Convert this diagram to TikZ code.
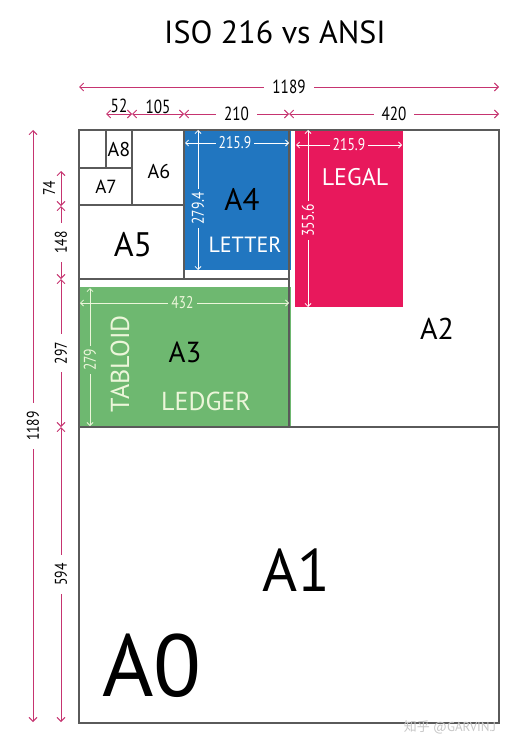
\documentclass[tikz,border=0pt]{standalone}
\usepackage{fontspec}
\setmainfont{PT Sans}
\newfontfamily\narrowfont{PT Sans}[FakeStretch=0.8]
\newfontfamily\cjkfont{Noto Sans CJK SC}
\usetikzlibrary{arrows.meta}

\definecolor{dimpink}{RGB}{198,52,112}
\definecolor{linegray}{RGB}{90,90,90}
\definecolor{letterblue}{RGB}{33,118,192}
\definecolor{legalred}{RGB}{232,24,92}
\definecolor{tabloidgreen}{RGB}{110,184,112}
\definecolor{greentext}{RGB}{236,246,218}

\newcommand{\fs}[1]{\fontsize{#1}{#1}\selectfont}

\begin{document}
\begin{tikzpicture}[x=1pt, y=-1pt,
    paper/.style={draw=linegray, line width=1.1pt},
    dimline/.style={draw=dimpink, line width=0.9pt, {Straight Barb[length=4pt,width=8pt]}-{Straight Barb[length=4pt,width=8pt]}},
    dimtext/.style={fill=white, inner xsep=8pt, inner ysep=0pt, text=black, font=\narrowfont\fs{19}},
    sidetext/.style={dimtext, rotate=90, font=\narrowfont\fs{17}},
    innerdim/.style={draw=white, line width=0.8pt, {Straight Barb[length=3pt,width=6pt]}-{Straight Barb[length=3pt,width=6pt]}},
    innertext/.style={inner xsep=3pt, inner ysep=0pt, text=white, font=\narrowfont\fs{17}},
    sizename/.style={inner sep=0pt, text=black}]
  \useasboundingbox (0,0) rectangle (523,749);
  %% title
  \node (title) at (275,32) {\fs{32}ISO 216 vs ANSI};
  %% ansi sheets
  \fill[letterblue] (184,130) rectangle (291,270);
  \fill[legalred] (295,130) rectangle (403,307);
  \fill[tabloidgreen] (79,287) rectangle (291,427);
  %% iso sheets
  \draw[paper] (79,130) rectangle (499,723);
  \draw[paper] (79,427) -- (499,427);
  \draw[paper] (289,130) -- (289,427);
  \draw[paper] (79,279) -- (289,279);
  \draw[paper] (184,130) -- (184,279);
  \draw[paper] (79,205) -- (184,205);
  \draw[paper] (132,130) -- (132,205);
  \draw[paper] (79,168) -- (132,168);
  \draw[paper] (106,130) -- (106,168);
  %% sheet names
  \node[sizename] (a0) at (152,666) {\fs{88}A0};
  \node[sizename] (a1) at (296,570) {\fs{60}A1};
  \node[sizename] (a2) at (437,329) {\fs{30}A2};
  \node[sizename] (a3) at (185,352) {\fs{29}A3};
  \node[sizename] (a4) at (242,199) {\fs{31}A4};
  \node[sizename] (a5) at (133,245) {\fs{34}A5};
  \node[sizename] (a6) at (159,171) {\fs{20}A6};
  \node[sizename] (a7) at (106,187) {\fs{19}A7};
  \node[sizename] (a8) at (119,150) {\fs{20}A8};
  \node[sizename, text=white] (letter) at (245,245) {\fs{22}LETTER};
  \node[sizename, text=white] (legal) at (355,177) {\fs{24}LEGAL};
  \node[sizename, text=greentext] (ledger) at (206,401) {\fs{26}LEDGER};
  \node[sizename, text=greentext, rotate=90] (tabloid) at (120,364) {\fs{26}TABLOID};
  %% width dimensions
  \coordinate (t0) at (79,87);
  \coordinate (t1) at (499,87);
  \coordinate (s0) at (106,114);
  \coordinate (s1) at (132,114);
  \coordinate (s2) at (184,114);
  \coordinate (s3) at (289,114);
  \coordinate (s4) at (499,114);
  \draw[dimline] (t0) -- node[dimtext] {1189} (t1);
  \draw[dimline] (s0) -- node[dimtext, fill=none, yshift=8pt] {52} (s1);
  \draw[dimline] (s1) -- node[dimtext, fill=none, yshift=7pt] {105} (s2);
  \draw[dimline] (s2) -- node[dimtext] {210} (s3);
  \draw[dimline] (s3) -- node[dimtext] {420} (s4);
  %% height dimensions
  \coordinate (v0) at (33,130);
  \coordinate (v1) at (33,722);
  \coordinate (w0) at (61,171);
  \coordinate (w1) at (61,206);
  \coordinate (w2) at (61,279);
  \coordinate (w3) at (61,427);
  \coordinate (w4) at (61,722);
  \draw[dimline] (v0) -- node[sidetext] {1189} (v1);
  \draw[dimline] (w0) -- node[sidetext, fill=none, yshift=12pt] {74} (w1);
  \draw[dimline] (w1) -- node[sidetext] {148} (w2);
  \draw[dimline] (w2) -- node[sidetext] {297} (w3);
  \draw[dimline] (w3) -- node[sidetext] {594} (w4);
  %% letter dimensions
  \coordinate (lw0) at (185,143);
  \coordinate (lw1) at (289,143);
  \coordinate (lh0) at (198,130);
  \coordinate (lh1) at (198,270);
  \draw[innerdim] (lh0) -- node[innertext, fill=letterblue, rotate=90, pos=0.56] {279.4} (lh1);
  \draw[innerdim] (lw0) -- node[innertext, fill=letterblue, pos=0.48] {215.9} (lw1);
  %% legal dimensions
  \coordinate (gw0) at (296,145);
  \coordinate (gw1) at (402,145);
  \coordinate (gh0) at (308,130);
  \coordinate (gh1) at (308,307);
  \draw[innerdim] (gh0) -- node[innertext, fill=legalred, rotate=90, pos=0.51] {355.6} (gh1);
  \draw[innerdim] (gw0) -- node[innertext, fill=legalred, pos=0.5] {215.9} (gw1);
  %% tabloid dimensions
  \coordinate (bw0) at (80,303);
  \coordinate (bw1) at (289,303);
  \coordinate (bh0) at (90,288);
  \coordinate (bh1) at (90,426);
  \draw[innerdim, draw=greentext] (bh0) -- node[innertext, text=greentext, fill=tabloidgreen, rotate=90, pos=0.52] {279} (bh1);
  \draw[innerdim, draw=greentext] (bw0) -- node[innertext, text=greentext, fill=tabloidgreen, pos=0.49] {432} (bw1);
  %% watermark
  \node[text=gray!45] (mark) at (450,727) {\fs{13}{\cjkfont 知乎} @GARVIN.J};
\end{tikzpicture}
\end{document}
